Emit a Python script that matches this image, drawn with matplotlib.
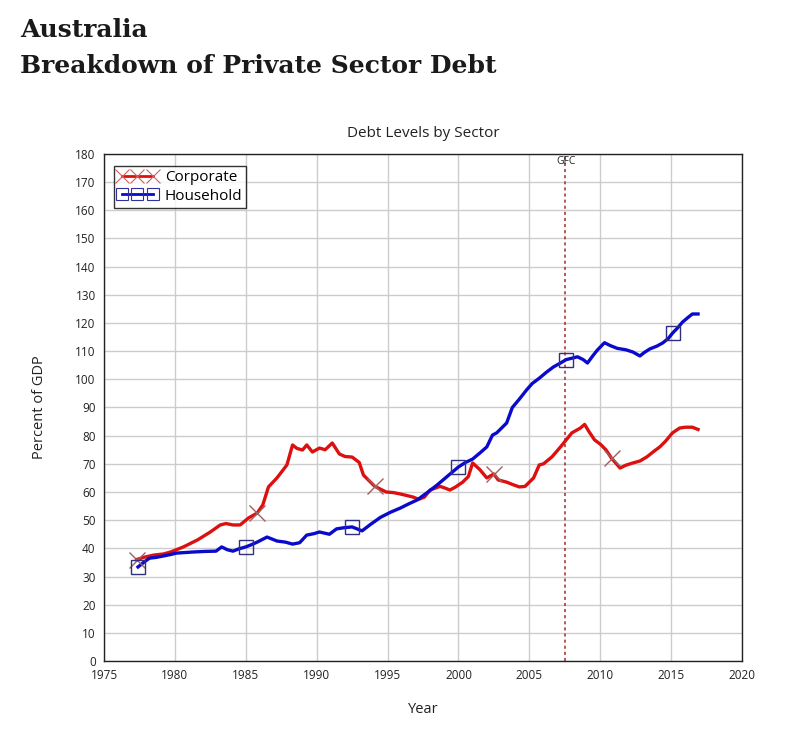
import matplotlib
matplotlib.use("Agg")
import matplotlib.pyplot as plt
import numpy as np
from matplotlib.lines import Line2D

# ---- data ----
corp_years = [1977.3, 1977.8, 1978.5, 1979.2, 1979.7, 1980.6, 1981.6, 1982.5, 1983.2, 1983.6,
              1984.1, 1984.6, 1985.2, 1985.8, 1986.2, 1986.6, 1987.2, 1987.9, 1988.3, 1988.6,
              1989.0, 1989.3, 1989.7, 1990.2, 1990.6, 1991.1, 1991.6, 1992.0, 1992.5, 1993.0,
              1993.3, 1993.7, 1994.1, 1994.5, 1994.9, 1995.4, 1995.9, 1996.4, 1996.8, 1997.2,
              1997.6, 1998.0, 1998.7, 1999.0, 1999.4, 1999.8, 2000.3, 2000.7, 2001.0, 2001.5,
              2002.0, 2002.5, 2002.8, 2003.4, 2003.9, 2004.3, 2004.7, 2005.0, 2005.3, 2005.7,
              2006.0, 2006.6, 2007.2, 2007.6, 2008.0, 2008.6, 2008.9, 2009.2, 2009.6, 2010.0,
              2010.4, 2010.8, 2011.4, 2011.8, 2012.3, 2012.8, 2013.3, 2013.8, 2014.2, 2014.6,
              2015.1, 2015.6, 2016.0, 2016.5, 2016.9]
corp_values = [36.0, 36.8, 37.6, 38.0, 38.7, 40.5, 43.0, 45.8, 48.3, 48.8,
               48.3, 48.3, 50.8, 52.5, 55.4, 61.8, 65.0, 69.6, 76.7, 75.5,
               74.9, 76.7, 74.2, 75.6, 75.0, 77.4, 73.5, 72.6, 72.4, 70.5,
               66.0, 64.0, 62.0, 61.0, 60.0, 59.8, 59.3, 58.7, 58.2, 57.4,
               58.2, 60.7, 62.0, 61.5, 60.7, 61.8, 63.5, 65.5, 70.3, 68.0,
               65.0, 66.4, 64.3, 63.5, 62.5, 61.8, 62.0, 63.5, 65.0, 69.6,
               70.0, 72.5, 76.0, 78.5, 81.0, 82.7, 84.0, 81.5, 78.5, 77.0,
               75.0, 72.0, 68.5, 69.5, 70.3, 71.0, 72.5, 74.5, 76.0, 78.0,
               81.0, 82.7, 83.0, 83.0, 82.2]

hh_years = [1977.4, 1977.8, 1978.2, 1978.7, 1979.2, 1979.7, 1980.1, 1980.7, 1981.3, 1982.1,
            1982.9, 1983.3, 1983.7, 1984.1, 1984.5, 1985.0, 1985.4, 1985.8, 1986.5, 1987.2,
            1987.8, 1988.3, 1988.8, 1989.3, 1989.8, 1990.2, 1990.9, 1991.4, 1991.9, 1992.5,
            1993.2, 1993.8, 1994.5, 1995.2, 1995.9, 1996.5, 1997.1, 1997.8, 1998.5, 1999.2,
            2000.0, 2000.5, 2001.0, 2001.5, 2002.0, 2002.4, 2002.7, 2003.1, 2003.4, 2003.8,
            2004.3, 2004.8, 2005.2, 2005.7, 2006.2, 2006.7, 2007.2, 2007.6, 2008.0, 2008.4,
            2008.8, 2009.1, 2009.5, 2009.8, 2010.3, 2010.7, 2011.2, 2011.8, 2012.3, 2012.8,
            2013.1, 2013.5, 2014.0, 2014.4, 2014.8, 2015.1, 2015.5, 2015.8, 2016.2, 2016.5,
            2016.9]
hh_values = [33.4, 35.0, 36.5, 36.8, 37.3, 37.8, 38.3, 38.5, 38.7, 38.9,
             39.0, 40.5, 39.5, 39.0, 39.8, 40.5, 41.3, 42.2, 44.0, 42.6,
             42.2, 41.5, 42.0, 44.7, 45.2, 45.8, 45.0, 46.9, 47.3, 47.6,
             46.2, 48.5, 51.0, 52.8, 54.3, 55.8, 57.2, 59.8, 62.5, 65.5,
             68.9, 70.5, 71.7, 73.8, 76.0, 80.2, 81.0, 83.0, 84.5, 90.0,
             93.0, 96.2, 98.5, 100.4, 102.5, 104.4, 105.8, 107.0, 107.5, 108.0,
             107.0, 105.8, 108.5, 110.4, 113.0, 112.0, 111.0, 110.5, 109.7, 108.3,
             109.5, 110.8, 111.8, 112.9, 114.5, 116.4, 118.5, 120.3, 122.0, 123.2,
             123.2]

corp_marker_years = [1977.3, 1985.8, 1994.1, 2002.5, 2010.8]
hh_marker_years = [1977.4, 1985.0, 1992.5, 2000.0, 2007.6, 2015.1]

gfc_year = 2007.5
x_ticks = list(range(1975, 2021, 5))
y_ticks = list(range(0, 181, 10))

# ---- figure ----
plt.rcParams['font.family'] = ['Open Sans', 'DejaVu Sans']
fig = plt.figure(figsize=(7.87, 7.35), dpi=100)
ax = fig.add_axes([104/787, 74/735, 638/787, 507/735])

corp_idx = [corp_years.index(y) for y in corp_marker_years]
hh_idx = [hh_years.index(y) for y in hh_marker_years]

red = '#dd1010'
blue = '#0a0acc'

ax.plot(corp_years, corp_values, color=red, lw=2.4, solid_joinstyle='round', zorder=3)
ax.plot(corp_years, corp_values, ls='none', marker='x', markevery=corp_idx, ms=11,
        mew=1.0, mec='#a06060', zorder=4)
ax.plot(hh_years, hh_values, color=blue, lw=2.4, solid_joinstyle='round', zorder=3)
ax.plot(hh_years, hh_values, ls='none', marker='s', markevery=hh_idx, ms=10,
        mew=1.0, mec='#303080', mfc='none', zorder=4)

ax.axvline(gfc_year, color='#a02828', ls=(0, (2, 2)), lw=1.1, zorder=2)
ax.text(gfc_year + 0.1, 177.3, 'GFC', ha='center', va='center', fontsize=7.5, color='#222222')

# legend proxies
h1 = Line2D([0], [0], color=red, lw=2.0, marker='x', ms=10, mec='#d06060', mew=0.8)
h2 = Line2D([0], [0], color=blue, lw=2.0, marker='s', ms=9, mec='#3030a0', mfc='none', mew=0.8)
leg = ax.legend([h1, h2], ['Corporate', 'Household'], loc='upper left',
                bbox_to_anchor=(0.008, 0.985), numpoints=3, handlelength=2.6,
                fontsize=11, frameon=True, fancybox=False, edgecolor='black',
                borderpad=0.25, labelspacing=0.25, handletextpad=0.5, borderaxespad=0.3)
leg.get_frame().set_linewidth(1.0)
leg.set_zorder(5)

ax.set_xlim(1975, 2020)
ax.set_ylim(0, 180)
ax.set_xticks(x_ticks)
ax.set_yticks(y_ticks)
ax.tick_params(axis='both', labelsize=8.5, length=0, colors='#222222')
ax.tick_params(axis='x', pad=6)
ax.tick_params(axis='y', pad=6)
ax.grid(True, color='#cccccc', lw=1.0, zorder=0)
ax.set_axisbelow(True)
for s in ax.spines.values():
    s.set_color('#222222')
    s.set_linewidth(1.0)

ax.set_title('Debt Levels by Sector', fontsize=11, color='#222222', pad=12)
ax.set_xlabel('Year', fontsize=10.5, color='#222222', labelpad=14)
ax.set_ylabel('Percent of GDP', fontsize=10.5, color='#222222', labelpad=20)

fig.text(20/787, 1 - 30/735, 'Australia', fontsize=18, fontweight='bold',
         family='DejaVu Serif', va='center', ha='left', color='#1a1a1a')
fig.text(20/787, 1 - 66/735, 'Breakdown of Private Sector Debt', fontsize=18,
         fontweight='bold', family='DejaVu Serif', va='center', ha='left', color='#1a1a1a')

fig.savefig('out.png', dpi=100, facecolor='white')
